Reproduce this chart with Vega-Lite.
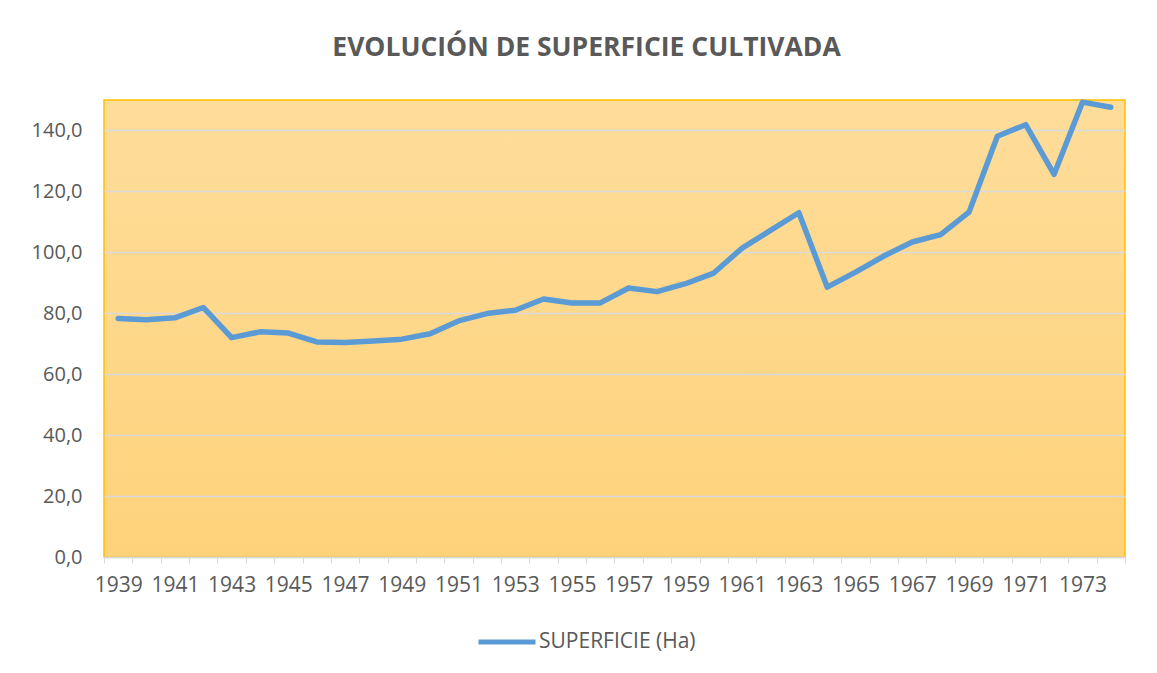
{
  "$schema": "https://vega.github.io/schema/vega-lite/v6.json",
  "width": 1021,
  "height": 457,
  "padding": {"left": 31, "top": 34, "right": 30, "bottom": 10},
  "background": "white",
  "title": {
    "text": "EVOLUCIÓN DE SUPERFICIE CULTIVADA",
    "font": "Open Sans",
    "fontSize": 26.5,
    "fontWeight": "bold",
    "color": "#595959",
    "offset": 38,
    "dx": -28
  },
  "data": {
    "values": [
      {"year": 1939, "value": 78.3, "serie": "SUPERFICIE (Ha)"},
      {"year": 1940, "value": 77.9, "serie": "SUPERFICIE (Ha)"},
      {"year": 1941, "value": 78.5, "serie": "SUPERFICIE (Ha)"},
      {"year": 1942, "value": 81.9, "serie": "SUPERFICIE (Ha)"},
      {"year": 1943, "value": 72.0, "serie": "SUPERFICIE (Ha)"},
      {"year": 1944, "value": 73.9, "serie": "SUPERFICIE (Ha)"},
      {"year": 1945, "value": 73.5, "serie": "SUPERFICIE (Ha)"},
      {"year": 1946, "value": 70.6, "serie": "SUPERFICIE (Ha)"},
      {"year": 1947, "value": 70.4, "serie": "SUPERFICIE (Ha)"},
      {"year": 1948, "value": 70.9, "serie": "SUPERFICIE (Ha)"},
      {"year": 1949, "value": 71.5, "serie": "SUPERFICIE (Ha)"},
      {"year": 1950, "value": 73.3, "serie": "SUPERFICIE (Ha)"},
      {"year": 1951, "value": 77.5, "serie": "SUPERFICIE (Ha)"},
      {"year": 1952, "value": 79.9, "serie": "SUPERFICIE (Ha)"},
      {"year": 1953, "value": 81.0, "serie": "SUPERFICIE (Ha)"},
      {"year": 1954, "value": 84.7, "serie": "SUPERFICIE (Ha)"},
      {"year": 1955, "value": 83.4, "serie": "SUPERFICIE (Ha)"},
      {"year": 1956, "value": 83.4, "serie": "SUPERFICIE (Ha)"},
      {"year": 1957, "value": 88.3, "serie": "SUPERFICIE (Ha)"},
      {"year": 1958, "value": 87.1, "serie": "SUPERFICIE (Ha)"},
      {"year": 1959, "value": 89.7, "serie": "SUPERFICIE (Ha)"},
      {"year": 1960, "value": 93.2, "serie": "SUPERFICIE (Ha)"},
      {"year": 1961, "value": 101.4, "serie": "SUPERFICIE (Ha)"},
      {"year": 1962, "value": 107.2, "serie": "SUPERFICIE (Ha)"},
      {"year": 1963, "value": 113.0, "serie": "SUPERFICIE (Ha)"},
      {"year": 1964, "value": 88.6, "serie": "SUPERFICIE (Ha)"},
      {"year": 1965, "value": 93.5, "serie": "SUPERFICIE (Ha)"},
      {"year": 1966, "value": 98.8, "serie": "SUPERFICIE (Ha)"},
      {"year": 1967, "value": 103.4, "serie": "SUPERFICIE (Ha)"},
      {"year": 1968, "value": 105.8, "serie": "SUPERFICIE (Ha)"},
      {"year": 1969, "value": 113.2, "serie": "SUPERFICIE (Ha)"},
      {"year": 1970, "value": 138.1, "serie": "SUPERFICIE (Ha)"},
      {"year": 1971, "value": 141.9, "serie": "SUPERFICIE (Ha)"},
      {"year": 1972, "value": 125.6, "serie": "SUPERFICIE (Ha)"},
      {"year": 1973, "value": 149.3, "serie": "SUPERFICIE (Ha)"},
      {"year": 1974, "value": 147.6, "serie": "SUPERFICIE (Ha)"}
    ]
  },
  "mark": {"type": "line", "strokeWidth": 5.5, "strokeCap": "round", "strokeJoin": "round"},
  "encoding": {
    "x": {
      "field": "year",
      "type": "ordinal",
      "sort": "ascending",
      "scale": {"paddingInner": 0, "paddingOuter": 0},
      "axis": {
        "title": null,
        "labelAngle": 0,
        "labelExpr": "datum.value % 2 == 1 ? datum.label : ''",
        "tickBand": "extent",
        "tickColor": "#D9D9D9",
        "tickSize": 6,
        "domainColor": "#D9D9D9",
        "domainWidth": 1.5,
        "labelFont": "Open Sans",
        "labelFontSize": 21,
        "labelColor": "#595959",
        "labelPadding": 11,
        "labelOverlap": false,
        "grid": false
      }
    },
    "y": {
      "field": "value",
      "type": "quantitative",
      "scale": {"domain": [0, 150], "nice": false},
      "axis": {
        "title": null,
        "values": [0, 20, 40, 60, 80, 100, 120, 140],
        "labelExpr": "replace(format(datum.value, '.1f'), '.', ',')",
        "domain": false,
        "ticks": false,
        "labelPadding": 22,
        "labelFont": "Open Sans",
        "labelFontSize": 20,
        "labelColor": "#595959",
        "gridColor": "#D9D9D9",
        "gridWidth": 1.5
      }
    },
    "color": {
      "field": "serie",
      "type": "nominal",
      "scale": {"range": ["#5B9BD5"]},
      "legend": {
        "title": null,
        "orient": "none",
        "legendX": 372,
        "legendY": 511,
        "symbolType": "stroke",
        "symbolSize": 3249,
        "symbolStrokeWidth": 5,
        "labelFont": "Open Sans",
        "labelFontSize": 21,
        "labelColor": "#595959",
        "labelOffset": 1
      }
    }
  },
  "config": {
    "view": {
      "fill": {
        "gradient": "linear",
        "x1": 0, "y1": 0, "x2": 0, "y2": 1,
        "stops": [
          {"offset": 0, "color": "#FEDD9A"},
          {"offset": 1, "color": "#FED27A"}
        ]
      },
      "stroke": "#FFC000",
      "strokeWidth": 1.5
    }
  }
}
